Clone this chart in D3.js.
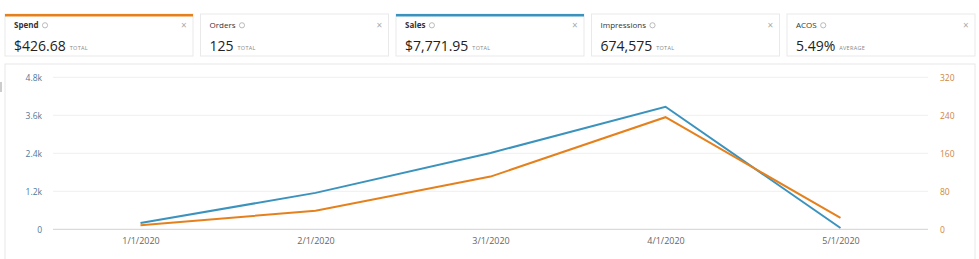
<!DOCTYPE html>
<html>
<head>
<meta charset="utf-8">
<script src="https://cdn.jsdelivr.net/npm/d3@7"></script>
<style>
  body { margin: 0; background: #fff; font-family: "Open Sans", "Noto Sans", sans-serif; }
  svg { display: block; }
</style>
</head>
<body>
<svg width="979" height="259"></svg>
<script>
var months = ["1/1/2020", "2/1/2020", "3/1/2020", "4/1/2020", "5/1/2020"];
var sales = [200, 1150, 2410, 3870, 40];
var spend = [8.5, 39, 111, 236, 24];
var salesTicks = [0, 1200, 2400, 3600, 4800];
var spendTicks = [0, 80, 160, 240, 320];

var cardTitles = ["Spend", "Orders", "Sales", "Impressions", "ACOS"];
var cardValues = ["$426.68", "125", "$7,771.95", "674,575", "5.49%"];
var cardUnits = ["TOTAL", "TOTAL", "TOTAL", "TOTAL", "AVERAGE"];
var cardAccent = ["#e5811d", null, "#3b93bd", null, null];

var orange = "#e5811d", blue = "#3b93bd";

var svg = d3.select("svg");

// metric cards
var cards = svg.append("g").selectAll("g")
    .data(cardTitles).enter()
    .append("g")
    .attr("transform", function (d, i) { return "translate(" + (5 + i * 195.5) + ",14)"; });

cards.append("rect")
    .attr("width", 188).attr("height", 42)
    .attr("fill", "#fff").attr("stroke", "#e9e9e9");

cards.filter(function (d, i) { return cardAccent[i]; })
    .append("rect")
    .attr("x", 0).attr("y", 0).attr("width", 188).attr("height", 2.5)
    .attr("fill", function (d) { return cardAccent[cardTitles.indexOf(d)]; });

cards.append("text")
    .attr("x", 9).attr("y", 14)
    .attr("font-size", 8).attr("font-weight", function (d, i) { return cardAccent[i] ? 700 : 400; })
    .attr("fill", "#333")
    .text(function (d) { return d; })
    .each(function () {
        var w = this.getComputedTextLength();
        d3.select(this.parentNode).append("circle")
            .attr("cx", 9 + w + 6.5).attr("cy", 11.3).attr("r", 2.6)
            .attr("fill", "none").attr("stroke", "#aaa").attr("stroke-width", 0.8);
    });

cards.append("text")
    .attr("x", 176).attr("y", 15)
    .attr("font-size", 10).attr("fill", "#aaa")
    .text("×");

cards.append("text")
    .attr("x", 9).attr("y", 36.5)
    .attr("font-size", 14).attr("fill", "#222")
    .text(function (d, i) { return cardValues[i]; })
    .each(function (d, i) {
        var w = this.getComputedTextLength();
        d3.select(this.parentNode).append("text")
            .attr("x", 9 + w + 4).attr("y", 35.5)
            .attr("font-size", 5.5).attr("fill", "#888").attr("letter-spacing", 0.3)
            .text(cardUnits[i]);
    });

// chart panel
svg.append("rect")
    .attr("x", 5).attr("y", 64).attr("width", 970).attr("height", 210)
    .attr("fill", "#fff").attr("stroke", "#e8e8e8");
svg.append("rect")
    .attr("x", 0).attr("y", 82).attr("width", 2).attr("height", 10)
    .attr("fill", "#ccc");

var x = d3.scalePoint().domain(months).range([53, 928]).padding(0.5);
var yL = d3.scaleLinear().domain([0, 4800]).range([229.3, 77.3]);
var yR = d3.scaleLinear().domain([0, 320]).range([229.3, 77.3]);

var grid = svg.append("g");
grid.selectAll("line")
    .data(salesTicks).enter()
    .append("line")
    .attr("x1", 53).attr("x2", 928)
    .attr("y1", function (d) { return yL(d); })
    .attr("y2", function (d) { return yL(d); })
    .attr("stroke", function (d) { return d === 0 ? "#cfd3d6" : "#efefef"; })
    .attr("stroke-width", 1);

var leftAxis = svg.append("g")
    .attr("transform", "translate(42,0)")
    .call(d3.axisLeft(yL).tickValues(salesTicks).tickSize(0).tickPadding(0)
        .tickFormat(function (d) { return d === 0 ? "0" : d3.format(".1f")(d / 1000) + "k"; }));
leftAxis.select(".domain").remove();
leftAxis.selectAll("text")
    .attr("font-family", "'Open Sans', sans-serif").attr("font-size", 8.5).attr("fill", "#51779a");

var rightAxis = svg.append("g")
    .attr("transform", "translate(940,0)")
    .call(d3.axisRight(yR).tickValues(spendTicks).tickSize(0).tickPadding(0));
rightAxis.select(".domain").remove();
rightAxis.selectAll("text")
    .attr("font-family", "'Open Sans', sans-serif").attr("font-size", 8.5).attr("fill", "#d08640");

var bottomAxis = svg.append("g")
    .attr("transform", "translate(0,235.5)")
    .call(d3.axisBottom(x).tickSize(0).tickPadding(2));
bottomAxis.select(".domain").remove();
bottomAxis.selectAll("text")
    .attr("font-family", "'Open Sans', sans-serif").attr("font-size", 9).attr("fill", "#666");

var lineSales = d3.line()
    .x(function (d, i) { return x(months[i]); })
    .y(function (d) { return yL(d); });
var lineSpend = d3.line()
    .x(function (d, i) { return x(months[i]); })
    .y(function (d) { return yR(d); });

svg.append("path").datum(sales)
    .attr("d", lineSales).attr("fill", "none")
    .attr("stroke", blue).attr("stroke-width", 2);
svg.append("path").datum(spend)
    .attr("d", lineSpend).attr("fill", "none")
    .attr("stroke", orange).attr("stroke-width", 2);
</script>
</body>
</html>
